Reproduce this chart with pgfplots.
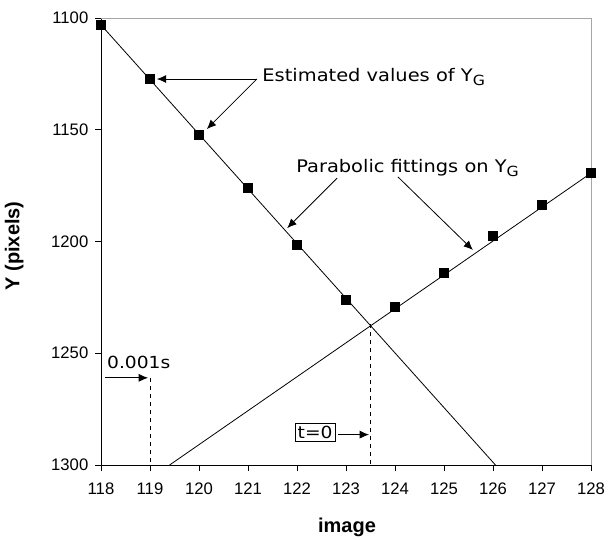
\documentclass[border=0pt]{standalone}
\usepackage{fontspec}
\setmainfont{Liberation Sans}
\newfontfamily\notefont[FakeStretch=1.12]{DejaVu Sans}
\usepackage{pgfplots}
\pgfplotsset{compat=1.18}
\usetikzlibrary{arrows.meta}

% values
\pgfplotstableread{
x y
118 1103.1
119 1127.3
120 1152.3
121 1176.0
122 1201.6
123 1226.2
}\falling
\pgfplotstableread{
x y
124 1229.3
125 1214.1
126 1197.5
127 1183.7
128 1169.4
}\rising

\newcommand{\subG}{\raisebox{-0.45ex}{\fontsize{10.5}{12}\selectfont G}}

\begin{document}
\begin{tikzpicture}[>={Latex[length=7pt,width=6pt]}]
\useasboundingbox (-75.75pt,-55.5pt) rectangle (381pt,348.75pt);
\begin{axis}[
  at={(0,0)}, anchor=south west,
  scale only axis,
  width=367.5pt, height=335.25pt,
  xmin=118, xmax=128, ymin=1100, ymax=1300,
  y dir=reverse,
  xtick={118,...,128},
  ytick={1100,1150,...,1300},
  axis x line*=bottom, axis y line*=left,
  axis line style={line width=0.7pt},
  tick align=outside, major tick length=4.5pt,
  tick style={black, line width=0.7pt},
  /pgf/number format/assume math mode=true,
  /pgf/number format/1000 sep={},
  ticklabel style={font=\fontsize{12.5}{14}\selectfont},
  xticklabel style={yshift=-5.5pt},
  yticklabel style={xshift=-1.5pt},
  xlabel={\bfseries image},
  ylabel={\bfseries Y (pixels)},
  label style={font=\fontsize{15}{17}\selectfont},
  x label style={at={(axis description cs:0.502,-0.139)}, anchor=center},
  y label style={at={(axis description cs:-0.177,0.49)}, anchor=center, rotate=0},
  clip=false,
]
\draw[gray!70, line width=0.7pt] (rel axis cs:0,1) -- (rel axis cs:1,1) -- (rel axis cs:1,0);

% parabolic fittings
\addplot[black, line width=0.6pt] coordinates {(118,1103.1) (126.05,1300)};
\addplot[black, line width=0.6pt] coordinates {(119.4,1300) (128,1169.4)};

% estimated values
\addplot[only marks, mark=square*, mark size=3.4pt, black] table[x=x,y=y] {\falling};
\addplot[only marks, mark=square*, mark size=3.4pt, black] table[x=x,y=y] {\rising};

% dashed markers
\draw[dashed, line width=0.6pt] (axis cs:119,1261) -- (axis cs:119,1300);
\draw[dashed, line width=0.6pt] (axis cs:123.5,1237) -- (axis cs:123.5,1300);

% annotations
\node[anchor=base west, inner sep=0pt, font=\notefont\fontsize{13}{16}\selectfont]
  at (axis cs:121.29,1128.2) {Estimated values of Y\subG};
\draw[->, line width=0.6pt] (axis cs:121.18,1127.3) -- (axis cs:119.14,1127.3);
\draw[->, line width=0.6pt] (axis cs:121.18,1127.3) -- (axis cs:120.16,1149.7);

\node[anchor=base west, inner sep=0pt, font=\notefont\fontsize{13}{16}\selectfont]
  at (axis cs:121.98,1169.2) {Parabolic fittings on Y\subG};
\draw[->, line width=0.6pt] (axis cs:122.82,1171.6) -- (axis cs:121.80,1194);
\draw[->, line width=0.6pt] (axis cs:124.06,1171.1) -- (axis cs:125.59,1203.8);

\node[anchor=base west, inner sep=0pt, font=\notefont\fontsize{12.5}{14}\selectfont]
  at (axis cs:118.12,1256.6) {0.001s};
\draw[->, line width=0.6pt] (axis cs:118.08,1261) -- (axis cs:118.96,1261);

\node[draw, line width=0.6pt, inner sep=2pt, font=\notefont\fontsize{12.5}{14}\selectfont]
  at (axis cs:122.37,1285.5) {t=0};
\draw[->, line width=0.6pt] (axis cs:122.84,1286.4) -- (axis cs:123.47,1286.4);
\end{axis}
\end{tikzpicture}
\end{document}
